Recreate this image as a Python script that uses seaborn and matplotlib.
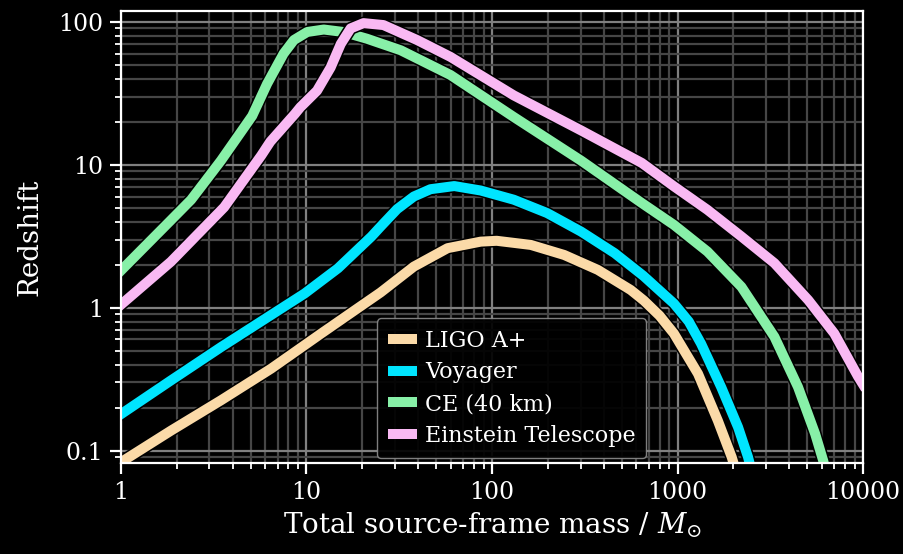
import numpy as np
import pandas as pd
import seaborn as sns
from matplotlib import pyplot as plt
from matplotlib import patheffects as pe
from matplotlib.ticker import NullFormatter, LogLocator

# values (total mass in Msun, redshift)
ligoMass = [1, 1.86, 3.46, 6.45, 12.0, 18, 25.1, 37.9, 57.6, 86.9, 106, 162, 245, 372, 560, 660,
            800, 956, 1290, 1650, 1960, 2150]
ligoZ = [0.083, 0.138, 0.225, 0.375, 0.66, 0.95, 1.28, 1.94, 2.61, 2.9, 2.94, 2.75, 2.34, 1.84, 1.33, 1.12,
         0.88, 0.66, 0.345, 0.162, 0.09, 0.06]

voyagerMass = [1, 1.86, 3.46, 6.45, 9.79, 14.8, 22.4, 25.1, 30.8, 37.9, 46.6, 62.6, 86.9, 131, 198, 302,
               458, 655, 956, 1150, 1340, 1720, 2120, 2400, 2600]
voyagerZ = [0.18, 0.31, 0.53, 0.89, 1.26, 1.89, 3.15, 3.7, 4.9, 6.0, 6.75, 7.1, 6.61, 5.7, 4.6, 3.41,
            2.41, 1.67, 1.07, 0.8, 0.56, 0.278, 0.146, 0.09, 0.06]

ceMass = [1, 1.86, 2.39, 3.46, 5.1, 6.13, 7.53, 8.55, 10.1, 12.4, 15.8, 21.2, 32.2, 59.7, 131, 302,
          642, 956, 1450, 2210, 3330, 4460, 5520, 6100, 6500]
ceZ = [1.82, 4.1, 5.7, 10.7, 22, 36.8, 60, 74.6, 85, 88.4, 85, 76.2, 63.3, 42.5, 21.6, 10.7,
       5.4, 3.8, 2.47, 1.40, 0.625, 0.279, 0.131, 0.085, 0.06]

etMass = [1, 1.86, 3.6, 5.7, 6.38, 8.66, 9.27, 11.4, 13.5, 15.3, 17.3, 20.3, 26, 39.5, 59.7, 131, 302,
          642, 956, 1450, 2210, 3330, 5070, 7000, 9400, 10000]
etZ = [1.05, 2.1, 5.05, 11.6, 14.5, 22.7, 25.3, 33, 48, 70, 90, 98, 95, 74.6, 56.9, 30.6, 17.4,
       10.3, 7.07, 4.84, 3.15, 2.05, 1.13, 0.66, 0.33, 0.29]

detectors = ['LIGO A+', 'Voyager', 'CE (40 km)', 'Einstein Telescope']
colors = ['#FBDAA8', '#00E5FF', '#88F0A8', '#F9B9F3']

xTicks = [1, 10, 100, 1000, 10000]
xTickLabels = ['1', '10', '100', '1000', '10000']
yTicks = [0.1, 1, 10, 100]
yTickLabels = ['0.1', '1', '10', '100']

frames = []
for name, m, z in zip(detectors, [ligoMass, voyagerMass, ceMass, etMass], [ligoZ, voyagerZ, ceZ, etZ]):
    frames.append(pd.DataFrame({'mass': m, 'z': z, 'detector': name}))
plotData = pd.concat(frames, ignore_index=True)

plt.style.use('dark_background')
plt.rcParams['font.family'] = ['DejaVu Serif']
plt.rcParams['mathtext.fontset'] = 'dejavuserif'

fig, ax = plt.subplots(figsize=(9.04, 5.54), dpi=100)
fig.patch.set_facecolor('black')
ax.set_facecolor('black')
fig.subplots_adjust(left=0.1338, right=0.9547, top=0.980, bottom=0.1643)

_ = sns.lineplot(
    data=plotData,
    x='mass',
    y='z',
    hue='detector',
    hue_order=detectors,
    palette=dict(zip(detectors, colors)),
    estimator=None,
    sort=False,
    linewidth=7.2,
    ax=ax,
)

for line in ax.get_lines():
    line.set_solid_joinstyle('round')
    line.set_path_effects([pe.Stroke(linewidth=9.4, foreground='black'), pe.Normal()])

ax.set_xscale('log')
ax.set_yscale('log')
ax.set_xlim(1, 10000)
ax.set_ylim(0.082, 119)

ax.set_xticks(xTicks, xTickLabels)
ax.set_yticks(yTicks, yTickLabels)
ax.xaxis.set_minor_locator(LogLocator(base=10, subs=np.arange(2, 10)))
ax.yaxis.set_minor_locator(LogLocator(base=10, subs=np.arange(2, 10)))
ax.xaxis.set_minor_formatter(NullFormatter())
ax.yaxis.set_minor_formatter(NullFormatter())

ax.tick_params(which='major', direction='out', length=8, width=1.6, colors='white', labelsize=17, pad=5)
ax.tick_params(which='minor', direction='out', length=4, width=1.3, colors='white')

ax.set_axisbelow(True)
ax.grid(True, which='major', color='#808080', linewidth=1.6)
ax.grid(True, which='minor', color='#464646', linewidth=1.6)

for spine in ax.spines.values():
    spine.set_color('white')
    spine.set_linewidth(1.6)

ax.set_xlabel(r'Total source-frame mass / $M_{\odot}$', fontsize=20, color='white', labelpad=5)
ax.set_ylabel('Redshift', fontsize=20, color='white', labelpad=10)

leg = ax.legend(loc='lower left', bbox_to_anchor=(0.345, 0.011), borderaxespad=0,
                fontsize=16, handlelength=1.3, handletextpad=0.35, borderpad=0.5,
                frameon=True, facecolor='black', edgecolor='#8a8a8a', framealpha=0.92,
                labelspacing=0.44)
for h in leg.get_lines():
    h.set_linewidth(7.2)
    h.set_solid_capstyle('butt')
    h.set_path_effects([])

fig.savefig('out.png', dpi=100, facecolor='black')
